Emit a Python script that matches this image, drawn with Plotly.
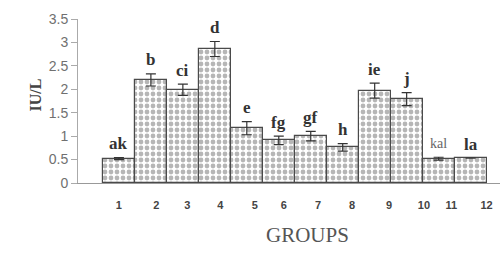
import plotly.graph_objects as go

groups = [1, 2, 3, 4, 5, 6, 7, 8, 9, 10, 11, 12]
values = [0.52, 2.20, 1.99, 2.86, 1.17, 0.91, 1.00, 0.76, 1.97, 1.79, 0.52, 0.53]
errors = [0.02, 0.13, 0.12, 0.16, 0.14, 0.09, 0.10, 0.08, 0.16, 0.14, 0.03, 0.0]
letters = ["ak", "b", "ci", "d", "e", "fg", "gf", "h", "ie", "j", "kal", "la"]
tick_labels = ["1", "2", "3", "4", "5", "6", "7", "8", "9", "10", "11", "12"]
# where the group labels sit along the axis (data units)
tick_positions = [1.0, 2.17, 3.14, 4.17, 5.25, 6.16, 7.23, 8.29, 9.45, 10.54, 11.40, 12.5]

fig = go.Figure()
fig.add_trace(go.Bar(
    x=groups, y=values, width=1.0,
    marker=dict(color="white",
                line=dict(color="#4a4a4a", width=1.2),
                pattern=dict(shape=".", fgcolor="#6e6e6e", bgcolor="white",
                             size=6, solidity=0.5)),
    error_y=dict(type="data", array=errors, visible=True,
                 color="#333333", thickness=1.2, width=5),
    showlegend=False,
))

for g, v, e, t in zip(groups, values, errors, letters):
    plain = (t == "kal")
    fig.add_annotation(
        x=g, y=v + e, xref="x", yref="y", text=t, showarrow=False,
        yshift=14, yanchor="middle",
        font=dict(family="Liberation Serif", size=14 if plain else 17,
                  color="#666666" if plain else "#333333",
                  weight="normal" if plain else "bold"),
    )

fig.add_annotation(x=0.545, y=-0.317, xref="paper", yref="paper",
                   text="GROUPS", showarrow=False, yanchor="middle",
                   font=dict(family="Liberation Serif", size=21, color="#555555"))
fig.add_annotation(x=-0.1256, y=0.537, xref="paper", yref="paper",
                   text="IU/L", showarrow=False, textangle=-90,
                   font=dict(family="Liberation Serif", size=16, color="#444444",
                             weight="bold"))

fig.update_layout(
    width=500, height=253,
    margin=dict(l=78, r=0, t=19, b=70),
    plot_bgcolor="white", paper_bgcolor="white",
    bargap=0,
    xaxis=dict(range=[-0.28, 12.92], tickvals=tick_positions, ticktext=tick_labels,
               showline=True, linecolor="#999999", linewidth=1,
               ticks="", showgrid=False, zeroline=False,
               ticklabelstandoff=12,
               tickfont=dict(family="Liberation Sans", size=11, color="#444444",
                             weight="bold")),
    yaxis=dict(range=[0, 3.5], dtick=0.5, showline=True, linecolor="#aaaaaa",
               linewidth=1, ticks="outside", ticklen=6, tickcolor="#aaaaaa",
               showgrid=False, zeroline=False,
               tickfont=dict(family="Liberation Sans", size=14, color="#707070")),
)

fig.write_html("out.html")
